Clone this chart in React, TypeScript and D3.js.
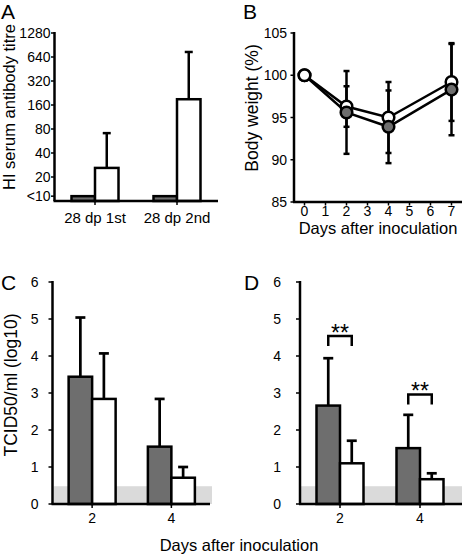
import React from "react";
import * as d3 from "d3";

// ---------- Data ----------
// Panel A: HI serum antibody titre (log2 axis)
const titreGroups = ["28 dp 1st", "28 dp 2nd"];
const titreBelowDetection = 11.5; // plotted position of "<10"
const titreTickValues = [titreBelowDetection, 20, 40, 80, 160, 320, 640, 1280];
const titreTickLabels = ["<10", "20", "40", "80", "160", "320", "640", "1280"];
const titreGray = [titreBelowDetection, titreBelowDetection];
const titreWhite = [26, 189];
const titreWhiteUpper = [71, 740];

// Panel B: body weight (%)
const weightDays = [0, 2, 4, 7];
const weightDayTicks = [0, 1, 2, 3, 4, 5, 6, 7];
const weightTicks = [85, 90, 95, 100, 105];
const weightWhite = [100, 96.3, 95.0, 99.2];
const weightWhiteSD = [0, 2.4, 4.2, 4.6];
const weightGray = [100, 95.6, 93.9, 98.3];
const weightGraySD = [0, 4.9, 4.3, 5.4];

// Panels C & D: TCID50/ml (log10)
const virusDays = ["2", "4"];
const virusTicks = [0, 1, 2, 3, 4, 5, 6];
const detectionLimit = 0.48;
const virusCGray = [3.44, 1.55];
const virusCGrayErr = [1.6, 1.29];
const virusCWhite = [2.84, 0.71];
const virusCWhiteErr = [1.23, 0.29];
const virusDGray = [2.66, 1.51];
const virusDGrayErr = [1.28, 0.9];
const virusDWhite = [1.1, 0.67];
const virusDWhiteErr = [0.61, 0.16];
const virusDSignif = ["**", "**"];
const virusDSignifLevel = [4.54, 2.96];

// ---------- Styles ----------
const FONT = "'Liberation Sans', Arial, Helvetica, sans-serif";
const DARK = "#6e6e6e";
const SHADE = "#dadada";
const SW = 2.5;

function PanelA() {
  const x = d3.scaleBand<string>().domain(titreGroups).range([54, 218]);
  const y = d3.scaleLog().base(2).domain([10, 1280]).range([201, 33]);
  const bw = 23.5;
  const axisX = 54.5;
  return (
    <g>
      {titreGroups.map((g, i) => {
        const c = (x(g) as number) + x.bandwidth() / 2;
        return (
          <g key={g}>
            <line x1={c + bw / 2} x2={c + bw / 2} y1={y(titreWhite[i])} y2={y(titreWhiteUpper[i])} stroke="#000" strokeWidth={SW} />
            <line x1={c + bw / 2 - 4} x2={c + bw / 2 + 4} y1={y(titreWhiteUpper[i])} y2={y(titreWhiteUpper[i])} stroke="#000" strokeWidth={SW} />
            <rect x={c - bw} y={y(titreGray[i])} width={bw} height={201 - y(titreGray[i])} fill={DARK} stroke="#000" strokeWidth={SW} />
            <rect x={c} y={y(titreWhite[i])} width={bw} height={201 - y(titreWhite[i])} fill="#fff" stroke="#000" strokeWidth={SW} />
            <line x1={c} x2={c} y1={201} y2={205} stroke="#000" strokeWidth={1.5} />
            <text x={c} y={223} textAnchor="middle" fontSize={15} fontFamily={FONT}>{g}</text>
          </g>
        );
      })}
      <line x1={axisX} x2={axisX} y1={32} y2={201} stroke="#000" strokeWidth={SW} />
      <line x1={axisX - 1} x2={218} y1={201} y2={201} stroke="#000" strokeWidth={SW} />
      {titreTickValues.map((v, i) => (
        <g key={v}>
          <line x1={axisX - 3.5} x2={axisX} y1={y(v)} y2={y(v)} stroke="#000" strokeWidth={1.5} />
          <text x={axisX - 4} y={y(v)} dy="0.36em" textAnchor="end" fontSize={14} fontFamily={FONT}>{titreTickLabels[i]}</text>
        </g>
      ))}
      <text transform="translate(15,107) rotate(-90)" textAnchor="middle" fontSize={16.5} fontFamily={FONT}>HI serum antibody titre</text>
      <text x={1} y={19} fontSize={21} fontFamily={FONT}>A</text>
    </g>
  );
}

function PanelB() {
  const x = d3.scaleLinear().domain([-0.5, 7.5]).range([294, 462]);
  const y = d3.scaleLinear().domain([85, 105]).range([202, 33]);
  const lineGen = d3.line<number>().x((_, i) => x(weightDays[i])).y((d) => y(d));
  const series = [
    { vals: weightWhite, sd: weightWhiteSD, fill: "#fff", key: "w" },
    { vals: weightGray, sd: weightGraySD, fill: DARK, key: "g" },
  ];
  // draw circles so that the lower point of each day lies on top
  const circles: { day: number; v: number; fill: string; order: number; key: string }[] = [];
  weightDays.forEach((d, i) => {
    const pts = series.map((s, si) => ({ day: d, v: s.vals[i], fill: s.fill, order: si, key: s.key + d }));
    pts.sort((a, b) => b.v - a.v || b.order - a.order);
    circles.push(...pts);
  });
  return (
    <g>
      {series.map((s) => (
        <path key={s.key} d={lineGen(s.vals) || ""} fill="none" stroke="#000" strokeWidth={SW} />
      ))}
      {series.map((s) =>
        weightDays.map((d, i) =>
          s.sd[i] > 0 ? (
            <g key={s.key + d}>
              <line x1={x(d)} x2={x(d)} y1={y(s.vals[i] - s.sd[i])} y2={y(s.vals[i] + s.sd[i])} stroke="#000" strokeWidth={SW} />
              <line x1={x(d) - 3} x2={x(d) + 3} y1={y(s.vals[i] - s.sd[i])} y2={y(s.vals[i] - s.sd[i])} stroke="#000" strokeWidth={SW} />
              <line x1={x(d) - 3} x2={x(d) + 3} y1={y(s.vals[i] + s.sd[i])} y2={y(s.vals[i] + s.sd[i])} stroke="#000" strokeWidth={SW} />
            </g>
          ) : null
        )
      )}
      {circles.map((c) => (
        <circle key={c.key} cx={x(c.day)} cy={y(c.v)} r={5.8} fill={c.fill} stroke="#000" strokeWidth={SW} />
      ))}
      <line x1={294} x2={294} y1={32} y2={202} stroke="#000" strokeWidth={SW} />
      <line x1={293} x2={462} y1={202} y2={202} stroke="#000" strokeWidth={SW} />
      {weightTicks.map((v) => (
        <g key={v}>
          <line x1={290.5} x2={294} y1={y(v)} y2={y(v)} stroke="#000" strokeWidth={1.5} />
          <text x={287} y={y(v)} dy="0.36em" textAnchor="end" fontSize={14} fontFamily={FONT}>{v}</text>
        </g>
      ))}
      {weightDayTicks.map((d) => (
        <g key={d}>
          <line x1={x(d)} x2={x(d)} y1={202} y2={205.5} stroke="#000" strokeWidth={1.5} />
          <text x={x(d)} y={216} textAnchor="middle" fontSize={14} fontFamily={FONT}>{d}</text>
        </g>
      ))}
      <text x={378} y={234} textAnchor="middle" fontSize={16.5} fontFamily={FONT}>Days after inoculation</text>
      <text transform="translate(258,108) rotate(-90)" textAnchor="middle" fontSize={17.5} fontFamily={FONT}>Body weight (%)</text>
      <text x={243} y={19} fontSize={21} fontFamily={FONT}>B</text>
    </g>
  );
}

type VirusProps = {
  axisX: number;
  rangeEnd: number;
  axisEnd: number;
  labelGap: number;
  gray: number[];
  grayErr: number[];
  white: number[];
  whiteErr: number[];
  signif?: string[];
  signifLevel?: number[];
  letter: string;
  letterX: number;
};

function VirusPanel(p: VirusProps) {
  const x = d3.scaleBand<string>().domain(virusDays).range([p.axisX, p.rangeEnd]);
  const y = d3.scaleLinear().domain([0, 6]).range([504, 282]);
  const bw = 23.5;
  const y0 = y(0);
  return (
    <g>
      <rect x={p.axisX + 1} y={y(detectionLimit)} width={p.axisEnd - p.axisX + 1} height={y0 - y(detectionLimit)} fill={SHADE} />
      {virusDays.map((d, i) => {
        const c = (x(d) as number) + x.bandwidth() / 2;
        const bars = [
          { v: p.gray[i], e: p.grayErr[i], fill: DARK, bx: c - bw },
          { v: p.white[i], e: p.whiteErr[i], fill: "#fff", bx: c },
        ];
        return (
          <g key={d}>
            {bars.map((b, j) => (
              <g key={j}>
                <line x1={b.bx + bw / 2} x2={b.bx + bw / 2} y1={y(b.v)} y2={y(b.v + b.e)} stroke="#000" strokeWidth={SW + 0.2} />
                <line x1={b.bx + bw / 2 - 5} x2={b.bx + bw / 2 + 5} y1={y(b.v + b.e)} y2={y(b.v + b.e)} stroke="#000" strokeWidth={SW + 0.2} />
              </g>
            ))}
            {bars.map((b, j) => (
              <rect key={"r" + j} x={b.bx} y={y(b.v)} width={bw} height={y0 - y(b.v)} fill={b.fill} stroke="#000" strokeWidth={SW} />
            ))}
            <line x1={c} x2={c} y1={y0} y2={y0 + 4} stroke="#000" strokeWidth={1.5} />
            <text x={c} y={523} textAnchor="middle" fontSize={14} fontFamily={FONT}>{d}</text>
            {p.signif && p.signifLevel ? (
              <g>
                <path
                  d={`M${c - bw / 2},${y(p.signifLevel[i]) + 10}V${y(p.signifLevel[i])}H${c + bw / 2}V${y(p.signifLevel[i]) + 10}`}
                  fill="none"
                  stroke="#000"
                  strokeWidth={SW}
                />
                <text x={c} y={y(p.signifLevel[i]) + 5} textAnchor="middle" fontSize={23} fontFamily={FONT}>{p.signif[i]}</text>
              </g>
            ) : null}
          </g>
        );
      })}
      <line x1={p.axisX} x2={p.axisX} y1={281} y2={y0} stroke="#000" strokeWidth={SW} />
      <line x1={p.axisX - 1} x2={p.axisEnd} y1={y0} y2={y0} stroke="#000" strokeWidth={SW} />
      {virusTicks.map((v) => (
        <g key={v}>
          <line x1={p.axisX - 4} x2={p.axisX} y1={y(v)} y2={y(v)} stroke="#000" strokeWidth={1.5} />
          <text x={p.axisX - p.labelGap} y={y(v)} dy="0.36em" textAnchor="end" fontSize={14} fontFamily={FONT}>{v}</text>
        </g>
      ))}
      <text x={p.letterX} y={290} fontSize={21} fontFamily={FONT}>{p.letter}</text>
    </g>
  );
}

export default function App() {
  return (
    <svg
      width={462}
      height={555}
      viewBox="0 0 462 555"
      style={{ position: "absolute", left: 0, top: 0, background: "#fff" }}
    >
      <rect width={462} height={555} fill="#fff" />
      <PanelA />
      <PanelB />
      <VirusPanel
        axisX={52.5}
        rangeEnd={211}
        axisEnd={210}
        labelGap={14}
        gray={virusCGray}
        grayErr={virusCGrayErr}
        white={virusCWhite}
        whiteErr={virusCWhiteErr}
        letter="C"
        letterX={1}
      />
      <VirusPanel
        axisX={300}
        rangeEnd={460}
        axisEnd={462}
        labelGap={19}
        gray={virusDGray}
        grayErr={virusDGrayErr}
        white={virusDWhite}
        whiteErr={virusDWhiteErr}
        signif={virusDSignif}
        signifLevel={virusDSignifLevel}
        letter="D"
        letterX={244}
      />
      <text transform="translate(16.5,385) rotate(-90)" textAnchor="middle" fontSize={17.5} fontFamily={FONT}>TCID50/ml (log10)</text>
      <text x={239} y={551} textAnchor="middle" fontSize={16.5} fontFamily={FONT}>Days after inoculation</text>
    </svg>
  );
}
